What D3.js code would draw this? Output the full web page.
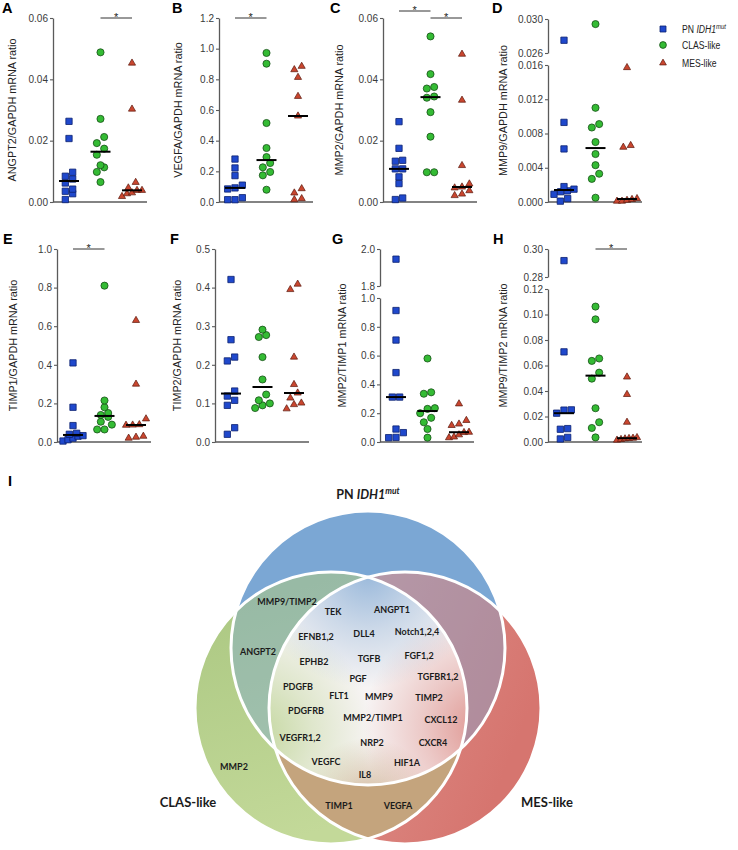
<!DOCTYPE html>
<html><head><meta charset="utf-8">
<script src="https://cdn.jsdelivr.net/npm/d3@7"></script>
<style>body{margin:0;background:#fff}svg{display:block}</style>
</head><body>
<svg id="chart" width="738" height="850"></svg>
<script>
// ---------------- DATA ----------------
const groups = ["PN IDH1mut", "CLAS-like", "MES-like"];

const angpt2PN   = [0.0263,0.0207,0.0097,0.0084,0.0075,0.0062,0.0042,0.0035,0.0027,0.0008];
const angpt2CLAS = [0.0488,0.0271,0.0212,0.0192,0.0174,0.0154,0.0120,0.0113,0.0098,0.0065];
const angpt2MES  = [0.0453,0.0303,0.0064,0.0046,0.0038,0.0038,0.0030,0.0027,0.0018];

const vegfaPN   = [0.280,0.222,0.172,0.110,0.092,0.085,0.028,0.015,0.015];
const vegfaCLAS = [0.972,0.902,0.515,0.352,0.293,0.254,0.226,0.196,0.174,0.080];
const vegfaMES  = [0.885,0.863,0.813,0.689,0.561,0.087,0.059,0.022,0.015];

const mmp2PN   = [0.0262,0.0175,0.0136,0.0133,0.0108,0.0108,0.0082,0.0060,0.0013,0.0008];
const mmp2CLAS = [0.0540,0.0417,0.0375,0.0370,0.0344,0.0340,0.0293,0.0213,0.0097,0.0097];
const mmp2MES  = [0.0482,0.0332,0.0119,0.0059,0.0049,0.0046,0.0037,0.0026,0.0021];

const mmp9PN   = [0.0275,0.0093,0.0062,0.0018,0.0015,0.0013,0.0012,0.0009,0.0004,0.0001];
const mmp9CLAS = [0.0294,0.0110,0.0091,0.0087,0.0070,0.0056,0.0043,0.0033,0.0027,0.0005];
const mmp9MES  = [0.0157,0.0066,0.0064,0.0004,0.0003,0.0002,0.0001,0.0001];

const timp1PN   = [0.41,0.18,0.085,0.045,0.040,0.033,0.030,0.020,0.012,0.005];
const timp1CLAS = [0.81,0.215,0.18,0.15,0.14,0.13,0.105,0.09,0.065,0.065];
const timp1MES  = [0.63,0.30,0.12,0.09,0.088,0.087,0.030,0.025,0.020];

const timp2PN   = [0.421,0.265,0.220,0.210,0.132,0.119,0.108,0.095,0.037,0.020];
const timp2CLAS = [0.291,0.277,0.272,0.220,0.162,0.123,0.108,0.100,0.095,0.088];
const timp2MES  = [0.409,0.395,0.220,0.149,0.127,0.114,0.101,0.097,0.086];

const mmp2timp1PN   = [1.945,0.913,0.708,0.482,0.312,0.312,0.090,0.065,0.032,0.030];
const mmp2timp1CLAS = [0.58,0.345,0.335,0.235,0.23,0.20,0.168,0.137,0.09,0.03];
const mmp2timp1MES  = [0.265,0.15,0.125,0.115,0.068,0.066,0.05,0.035,0.03];

const mmp9timp2PN   = [0.2917,0.0707,0.0252,0.0250,0.0226,0.0105,0.0100,0.0036,0.0024];
const mmp9timp2CLAS = [0.1062,0.0962,0.0655,0.0636,0.0544,0.0497,0.0265,0.0155,0.0110,0.0036];
const mmp9timp2MES  = [0.051,0.0373,0.0155,0.0035,0.0030,0.0028,0.0025,0.0020,0.0015];

const ticksA = [0,0.02,0.04,0.06];
const ticksB = [0,0.2,0.4,0.6,0.8,1.0,1.2];
const ticksC = [0,0.02,0.04,0.06];
const ticksDLow = [0,0.004,0.008,0.012,0.016];
const ticksDHigh = [0.026,0.030];
const ticksE = [0,0.2,0.4,0.6,0.8,1.0];
const ticksF = [0,0.1,0.2,0.3,0.4,0.5];
const ticksGLow = [0,0.2,0.4,0.6,0.8,1.0];
const ticksGHigh = [1.8,2.0];
const ticksHLow = [0,0.02,0.04,0.06,0.08,0.10,0.12];
const ticksHHigh = [0.28,0.30];

// significance pairs (group indices), listed by stacking level
const sigA = [[1,2]];
const sigB = [[0,1]];
const sigC = [[1,2],[0,1]];
const sigE = [[0,1]];
const sigH = [[1,2]];

// Venn content
const vennSets = ["PN IDH1mut", "CLAS-like", "MES-like"];
const vennAll = ["TEK","ANGPT1","EFNB1,2","DLL4","Notch1,2,4","EPHB2","TGFB","FGF1,2","PGF","TGFBR1,2",
  "PDGFB","FLT1","MMP9","TIMP2","PDGFRB","MMP2/TIMP1","CXCL12","VEGFR1,2","NRP2","CXCR4","VEGFC","HIF1A","IL8"];
const vennPNCLAS = ["MMP9/TIMP2","ANGPT2"];
const vennCLASonly = ["MMP2"];
const vennCLASMES = ["TIMP1","VEGFA"];

// ---------------- LAYOUT / STYLE ----------------
const FONT = "'Liberation Sans', Arial, Helvetica, sans-serif";
const VFONT = "Lato, 'Open Sans', sans-serif";
const axisColor = "#5a5a5a";
const rows = [{y0:202, y1:18, letterY:13}, {y0:442, y1:249, letterY:244}];
const panels = [
  {key:"A", title:"ANGPT2/GAPDH mRNA ratio", values:[angpt2PN,angpt2CLAS,angpt2MES], ticks:[ticksA], fmt:".2f", sig:sigA,
   row:0, x:53, letterX:2, titleX:16},
  {key:"B", title:"VEGFA/GAPDH mRNA ratio", values:[vegfaPN,vegfaCLAS,vegfaMES], ticks:[ticksB], fmt:".1f", sig:sigB,
   row:0, x:219, letterX:172, titleX:182},
  {key:"C", title:"MMP2/GAPDH mRNA ratio", values:[mmp2PN,mmp2CLAS,mmp2MES], ticks:[ticksC], fmt:".2f", sig:sigC,
   row:0, x:383, letterX:330, titleX:343},
  {key:"D", title:"MMP9/GAPDH mRNA ratio", values:[mmp9PN,mmp9CLAS,mmp9MES], ticks:[ticksDLow,ticksDHigh], fmt:".3f", sig:[],
   row:0, x:548, letterX:492, titleX:507, ranges:[[202,65],[53,19]]},
  {key:"E", title:"TIMP1/GAPDH mRNA ratio", values:[timp1PN,timp1CLAS,timp1MES], ticks:[ticksE], fmt:".1f", sig:sigE,
   row:1, x:57, letterX:3, titleX:17},
  {key:"F", title:"TIMP2/GAPDH mRNA ratio", values:[timp2PN,timp2CLAS,timp2MES], ticks:[ticksF], fmt:".1f", sig:[],
   row:1, x:215, letterX:170, titleX:181},
  {key:"G", title:"MMP2/TIMP1 mRNA ratio", values:[mmp2timp1PN,mmp2timp1CLAS,mmp2timp1MES], ticks:[ticksGLow,ticksGHigh], fmt:".1f", sig:[],
   row:1, x:380, letterX:332, titleX:346, ranges:[[442,298],[286,249]]},
  {key:"H", title:"MMP9/TIMP2 mRNA ratio", values:[mmp9timp2PN,mmp9timp2CLAS,mmp9timp2MES], ticks:[ticksHLow,ticksHHigh], fmt:".2f", sig:sigH,
   row:1, x:548, letterX:493, titleX:507, ranges:[[442,289],[277,249]]},
];
const symStyles = [
  {type:d3.symbolSquare, size:40, fill:"#1f48cc", stroke:"#0b2170", sw:0.8},
  {type:d3.symbolCircle, size:40, fill:"#34bb34", stroke:"#154f15", sw:0.8},
  {type:d3.symbolTriangle, size:22, fill:"#c9462f", stroke:"#5a190d", sw:0.7}
];

const svg = d3.select("#chart");

// horizontal dodge like a column scatter
function dodge(values, y, size, maxHalf){
  const pts = values.map(v => ({v, py:y(v)})).sort((a,b) => b.py - a.py);
  const groupsR = []; let cur = null;
  pts.forEach(p => {
    if (!cur || Math.abs(p.py - cur.start) > size*0.95) { cur = {start:p.py, pts:[]}; groupsR.push(cur); }
    cur.pts.push(p);
  });
  groupsR.forEach(r => {
    const n = r.pts.length; let s = size*1.05;
    if (n > 1 && (n-1)*s/2 > maxHalf) s = 2*maxHalf/(n-1);
    r.pts.forEach((p,i) => p.dx = (i-(n-1)/2)*s);
  });
  return pts;
}

panels.forEach(p => {
  const row = rows[p.row];
  const g = svg.append("g");
  const segs = p.ticks.map((t,i) => d3.scaleLinear()
     .domain([t[0], t[t.length-1]])
     .range(p.ranges ? p.ranges[i] : [row.y0, row.y1]));
  const y = v => (segs.length > 1 && v > segs[0].domain()[1]) ? segs[1](v) : segs[0](v);
  const x = d3.scalePoint().domain([0,1,2]).range([p.x+16, p.x+79]);

  // axes
  segs.forEach((s,i) => {
    const ax = g.append("g").attr("transform", `translate(${p.x},0)`)
      .call(d3.axisLeft(s).tickValues(p.ticks[i]).tickFormat(d3.format(p.fmt))
            .tickSize(3).tickSizeOuter(0).tickPadding(2));
    ax.select(".domain").attr("stroke", axisColor).attr("stroke-width", 1.3);
    ax.selectAll(".tick line").attr("stroke", axisColor).attr("stroke-width", 1.1);
    ax.selectAll(".tick text").attr("font-family", FONT).attr("font-size", 10).attr("fill", "#3a3a3a");
  });
  g.append("line").attr("x1", p.x).attr("x2", p.x+94).attr("y1", row.y0).attr("y2", row.y0)
    .attr("stroke", axisColor).attr("stroke-width", 1.3);

  // title & letter
  const cy = (row.y0 + (p.ranges ? p.ranges[1][1] : row.y1)) / 2;
  g.append("text").attr("transform", `translate(${p.titleX},${cy}) rotate(-90)`)
    .attr("text-anchor","middle").attr("font-family", FONT).attr("font-size", 10.8).attr("fill","#222")
    .text(p.title);
  g.append("text").attr("x", p.letterX).attr("y", row.letterY).attr("font-family", FONT)
    .attr("font-weight","bold").attr("font-size", 14.5).attr("fill","#000").text(p.key);

  // points
  p.values.forEach((vals, gi) => {
    const st = symStyles[gi];
    const pts = dodge(vals, y, 7, 10);
    g.append("g").selectAll("path").data(pts).join("path")
      .attr("d", d3.symbol().type(st.type).size(st.size))
      .attr("transform", d => `translate(${x(gi)+d.dx},${d.py})`)
      .attr("fill", st.fill).attr("stroke", st.stroke).attr("stroke-width", st.sw);
  });
  // medians
  p.values.forEach((vals, gi) => {
    const m = d3.median(vals);
    g.append("line").attr("x1", x(gi)-10).attr("x2", x(gi)+10).attr("y1", y(m)).attr("y2", y(m))
      .attr("stroke", "#000").attr("stroke-width", 2);
  });
  // significance
  p.sig.forEach((pair, lvl) => {
    const yy = row.y1 - 7*lvl;
    g.append("line").attr("x1", x(pair[0])).attr("x2", x(pair[1])).attr("y1", yy).attr("y2", yy)
      .attr("stroke", "#333").attr("stroke-width", 1);
    g.append("text").attr("x", (x(pair[0])+x(pair[1]))/2).attr("y", yy+3).attr("text-anchor","middle")
      .attr("font-family", FONT).attr("font-size", 11).attr("fill","#222").text("*");
  });
});

// legend
const legY = [29, 45, 63];
groups.forEach((name, i) => {
  const st = symStyles[i];
  svg.append("path").attr("d", d3.symbol().type(st.type).size(st.size*0.9))
    .attr("transform", `translate(663,${legY[i]})`)
    .attr("fill", st.fill).attr("stroke", st.stroke).attr("stroke-width", st.sw);
  const t = svg.append("text").attr("transform", `translate(682,${legY[i]+4}) scale(0.8,1)`)
    .attr("font-family", FONT).attr("font-size", 10.8).attr("fill", "#222");
  if (i === 0) {
    t.append("tspan").text("PN ");
    t.append("tspan").attr("font-style","italic").text("IDH1");
    t.append("tspan").attr("font-style","italic").attr("font-size", 7.5).attr("dy", -4).text("mut");
  } else t.text(name);
});

// ---------------- VENN ----------------
const vc = {x:368, y:688};
const circles = {
  PN:   {cx:vc.x,    cy:vc.y-40, r:137},
  CLAS: {cx:vc.x-37, cy:vc.y+20, r:136},
  MES:  {cx:vc.x+37, cy:vc.y+20, r:136}
};
const cBlue = "#7ba7d4", cGreen = "#b7d08a", cRed = "#d9817b", cTan = "#c4a47d";
const labelLayout = {
  "MMP9/TIMP2":[-81,-86], "TEK":[-35,-76], "ANGPT1":[24,-78], "EFNB1,2":[-52,-51], "DLL4":[-4,-54],
  "Notch1,2,4":[49,-56], "ANGPT2":[-110,-36], "TGFB":[1,-29], "FGF1,2":[51,-32], "EPHB2":[-54,-26],
  "PGF":[-10,-9], "TGFBR1,2":[70,-11], "PDGFB":[-70,-1], "FLT1":[-29,8], "MMP9":[11,9], "TIMP2":[61,10],
  "PDGFRB":[-62,23], "MMP2/TIMP1":[5,30], "CXCL12":[73,32], "VEGFR1,2":[-68,50], "NRP2":[4,55],
  "CXCR4":[65,55], "VEGFC":[-42,74], "HIF1A":[39,75], "IL8":[-3,87], "MMP2":[-134,79],
  "TIMP1":[-29,118], "VEGFA":[30,118]
};
const setLabelLayout = {"CLAS-like":[-180,114], "MES-like":[179,114]};

const defs = svg.append("defs");
Object.entries(circles).forEach(([k,c]) => {
  defs.append("clipPath").attr("id","clip"+k).append("circle").attr("cx",c.cx).attr("cy",c.cy).attr("r",c.r);
});
function radial(id, cx, cy, r, color, op){
  const gr = defs.append("radialGradient").attr("id", id).attr("gradientUnits","userSpaceOnUse")
    .attr("cx",cx).attr("cy",cy).attr("r",r);
  gr.append("stop").attr("offset","0%").attr("stop-color",color).attr("stop-opacity",op);
  gr.append("stop").attr("offset","50%").attr("stop-color",color).attr("stop-opacity",op*0.45);
  gr.append("stop").attr("offset","100%").attr("stop-color",color).attr("stop-opacity",0);
}
radial("glowBlue", vc.x, vc.y-115, 115, "#8fb2d8", 0.9);
radial("glowGreen", vc.x-115, vc.y+45, 120, "#bcd392", 0.9);
radial("glowRed", vc.x+115, vc.y+40, 120, "#dc8a85", 0.9);
radial("glowTan", vc.x, vc.y+120, 70, cTan, 0.85);
const lgG = defs.append("linearGradient").attr("id","fillGreen").attr("x1",0).attr("y1",0).attr("x2",0.3).attr("y2",1);
lgG.append("stop").attr("offset","0%").attr("stop-color","#a9c680");
lgG.append("stop").attr("offset","100%").attr("stop-color","#c3d999");
const lgR = defs.append("linearGradient").attr("id","fillRed").attr("x1",0).attr("y1",0).attr("x2",1).attr("y2",0.4);
lgR.append("stop").attr("offset","0%").attr("stop-color","#e19a94");
lgR.append("stop").attr("offset","100%").attr("stop-color","#d6756f");

const vg = svg.append("g");
const circ = (sel, c) => sel.append("circle").attr("cx",c.cx).attr("cy",c.cy).attr("r",c.r);
circ(vg, circles.PN).attr("fill", cBlue);
circ(vg, circles.CLAS).attr("fill", "url(#fillGreen)");
circ(vg, circles.MES).attr("fill", "url(#fillRed)");
circ(vg.append("g").attr("clip-path","url(#clipMES)"), circles.CLAS).attr("fill", cTan);
circ(vg.append("g").attr("clip-path","url(#clipCLAS)"), circles.PN).attr("fill", cBlue).attr("opacity", 0.42);
circ(vg.append("g").attr("clip-path","url(#clipMES)"), circles.PN).attr("fill", cBlue).attr("opacity", 0.42);
// triple intersection
const tri = vg.append("g").attr("clip-path","url(#clipPN)")
  .append("g").attr("clip-path","url(#clipCLAS)")
  .append("g").attr("clip-path","url(#clipMES)");
const bx = vc.x-180, by = vc.y-190, bw = 360, bh = 380;
tri.append("rect").attr("x",bx).attr("y",by).attr("width",bw).attr("height",bh).attr("fill","#f7f4f4");
["glowTan","glowGreen","glowRed","glowBlue"].forEach(id =>
  tri.append("rect").attr("x",bx).attr("y",by).attr("width",bw).attr("height",bh).attr("fill",`url(#${id})`));
// white outlines
Object.values(circles).forEach(c => circ(vg, c).attr("fill","none").attr("stroke","#fff").attr("stroke-width",3));

// gene labels
const allGenes = [...vennAll, ...vennPNCLAS, ...vennCLASonly, ...vennCLASMES];
vg.append("g").selectAll("text").data(allGenes).join("text")
  .attr("x", d => vc.x + labelLayout[d][0]).attr("y", d => vc.y + labelLayout[d][1] + 3.2)
  .attr("text-anchor","middle").attr("font-family", VFONT).attr("font-weight","bold")
  .attr("font-size", 9).attr("fill","#1b1b1b").text(d => d);
// set labels
vennSets.slice(1).forEach(s => {
  vg.append("text").attr("x", vc.x + setLabelLayout[s][0]).attr("y", vc.y + setLabelLayout[s][1] + 5)
    .attr("text-anchor","middle").attr("font-family", VFONT).attr("font-weight","bold")
    .attr("font-size", 13).attr("fill","#1b1b1b").text(s);
});
const vt = vg.append("text").attr("x", vc.x).attr("y", 499).attr("text-anchor","middle")
  .attr("font-family", VFONT).attr("font-weight","bold").attr("font-size", 12.5).attr("fill","#1b1b1b");
vt.append("tspan").text("PN ");
vt.append("tspan").attr("font-style","italic").text("IDH1");
vt.append("tspan").attr("font-style","italic").attr("font-size", 8.5).attr("dy", -5).text("mut");

svg.append("text").attr("x", 8).attr("y", 486).attr("font-family", FONT).attr("font-weight","bold")
  .attr("font-size", 14.5).text("I");
</script>
</body></html>
